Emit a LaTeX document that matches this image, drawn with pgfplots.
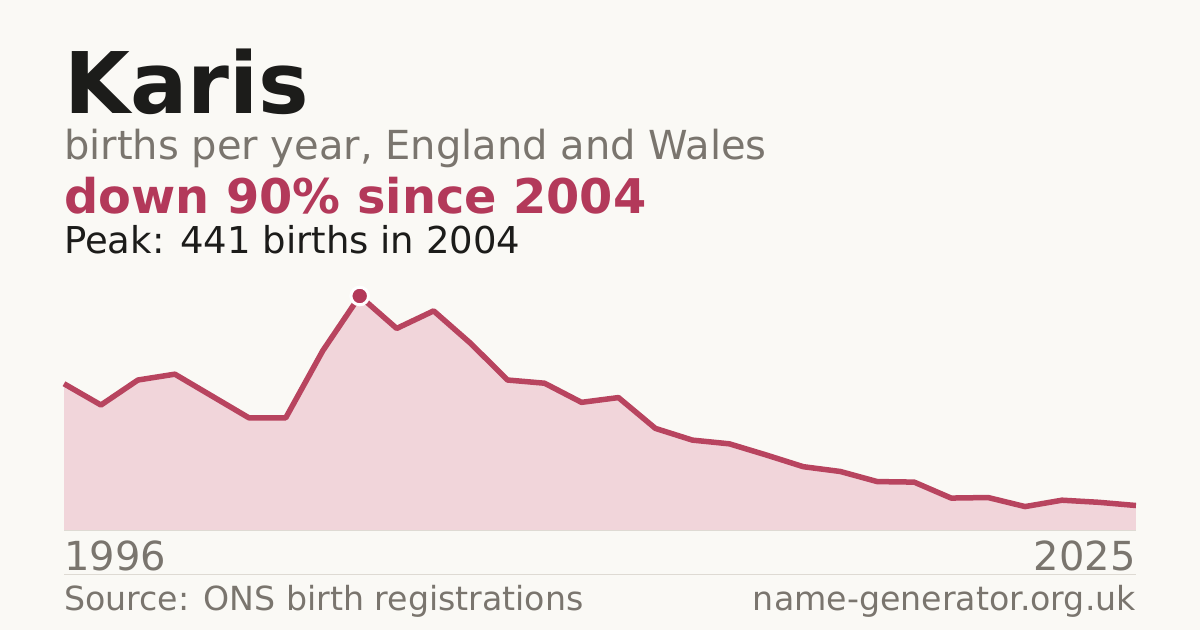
\documentclass[border=0pt]{standalone}
\usepackage{fontspec}
\setmainfont{DejaVu Sans}
\usepackage{pgfplots}
\pgfplotsset{compat=1.18}
\usepackage{pgfplotstable}
\definecolor{bg}{HTML}{FAF9F5}
\definecolor{accent}{HTML}{B3395A}
\definecolor{linec}{HTML}{B8445F}
\definecolor{fillc}{HTML}{F1D5DA}
\definecolor{greyt}{HTML}{7A756E}
\definecolor{darkt}{HTML}{1C1C1A}
\definecolor{rule}{HTML}{DEDAD3}
\pgfplotstableread{
year births
1996 276
1997 236
1998 283
1999 294
2000 253
2001 212
2002 212
2003 338
2004 441
2005 380
2006 413
2007 352
2008 283
2009 277
2010 241
2011 250
2012 192
2013 170
2014 163
2015 142
2016 120
2017 111
2018 92
2019 91
2020 61
2021 62
2022 45
2023 57
2024 53
2025 47
}\births
\begin{document}
\begin{tikzpicture}[x=1pt,y=1pt]
\fill[bg] (0,0) rectangle (1200,630);
\path[use as bounding box] (0,0) rectangle (1200,630);
\node[anchor=base west,inner sep=0pt,text=darkt] at (64,516) {\fontsize{85}{85}\selectfont\bfseries Karis};
\node[anchor=base west,inner sep=0pt,text=greyt] at (64,470) {\fontsize{40}{40}\selectfont births per year, England and Wales};
\node[anchor=base west,inner sep=0pt,text=accent] at (64,416.5) {\fontsize{47.8}{48}\selectfont\bfseries down 90\% since 2004};
\node[anchor=base west,inner sep=0pt,text=darkt] at (64,376.5) {\fontsize{37}{37}\selectfont Peak: 441 births in 2004};
\begin{axis}[at={(64pt,99.5pt)},anchor=south west,scale only axis,
  width=1072pt,height=234.5pt,xmin=1996,xmax=2025,ymin=0,ymax=441,
  axis lines=none,clip=false]
\addplot[draw=none,fill=fillc] table[x=year,y=births]{\births} \closedcycle;
\addplot[draw=rule,line width=1pt] coordinates {(1996,0) (2025,0)};
\addplot[draw=linec,line width=5.5pt,line join=round,line cap=butt] table[x=year,y=births]{\births};
\addplot[only marks,mark=*,mark size=8.8pt,mark options={fill=accent,draw=white,line width=3pt}] coordinates {(2004,441)};
\node[anchor=base west,inner sep=0pt,text=greyt] at (axis cs:1996,0) [yshift=-39.5pt] {\fontsize{40}{40}\selectfont 1996};
\node[anchor=base east,inner sep=0pt,text=greyt] at (axis cs:2025,0) [yshift=-39.5pt] {\fontsize{40}{40}\selectfont 2025};
\end{axis}
\draw[rule,line width=1pt] (64,56) -- (1136,56);
\node[anchor=base west,inner sep=0pt,text=greyt] at (64,20) {\fontsize{33.2}{33}\selectfont Source: ONS birth registrations};
\node[anchor=base east,inner sep=0pt,text=greyt] at (1136,20) {\fontsize{33.2}{33}\selectfont name-generator.org.uk};
\end{tikzpicture}
\end{document}
